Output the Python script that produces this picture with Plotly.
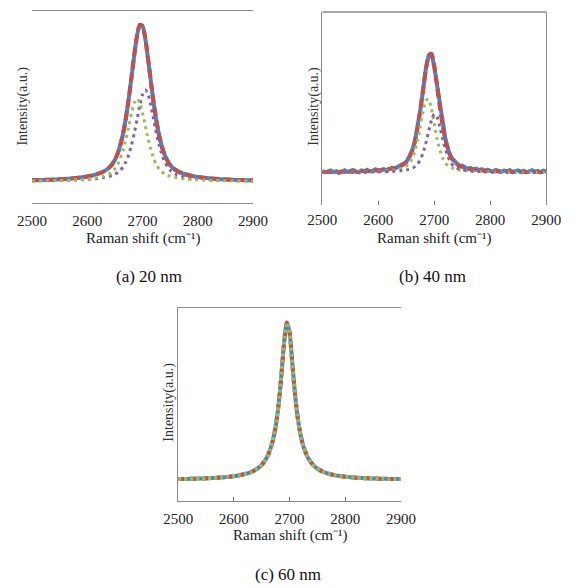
import plotly.graph_objects as go

# ---------------- data ----------------
raman_shift = [2500, 2510, 2520, 2530, 2540, 2550, 2560, 2570, 2580, 2590, 2600, 2610, 2620, 2630,
               2640, 2645, 2650, 2655, 2660, 2665, 2670, 2675, 2680, 2685, 2690, 2695, 2700, 2705,
               2710, 2715, 2720, 2725, 2730, 2735, 2740, 2745, 2750, 2755, 2760,
               2770, 2780, 2790, 2800, 2810, 2820, 2830, 2840, 2850, 2860, 2870, 2880, 2890, 2900]

# (a) 20 nm
a_total = [0.0081, 0.0089, 0.010, 0.0112, 0.0126, 0.0143, 0.0164, 0.019, 0.0223, 0.0265, 0.0319, 0.0392,
           0.0494, 0.0643, 0.0896, 0.1098, 0.138, 0.178, 0.234, 0.309, 0.406, 0.525, 0.662, 0.803, 0.924,
           0.993, 0.985, 0.903, 0.775, 0.634, 0.500, 0.385, 0.292, 0.221, 0.169, 0.132, 0.105, 0.0865,
           0.073, 0.0546, 0.0428, 0.0346, 0.0285, 0.0239, 0.0203, 0.0174, 0.0151, 0.0133, 0.0117,
           0.0104, 0.0093, 0.0082, 0.0076]
a_peak_high = [0.0036, 0.004, 0.0044, 0.0049, 0.0055, 0.0063, 0.0071, 0.0082, 0.0096, 0.0112, 0.0134,
               0.0162, 0.020, 0.0254, 0.0332, 0.0388, 0.0462, 0.0567, 0.072, 0.094, 0.126, 0.171,
               0.231, 0.306, 0.393, 0.482, 0.552, 0.58, 0.552, 0.482, 0.393, 0.306, 0.231, 0.171, 0.126,
               0.094, 0.072, 0.0567, 0.0462, 0.0332, 0.0254, 0.020, 0.0162, 0.0134, 0.0112, 0.0096,
               0.0082, 0.0071, 0.0063, 0.0055, 0.0049, 0.0044, 0.004]
a_peak_low = [0.0036, 0.004, 0.0045, 0.0051, 0.0058, 0.0066, 0.0077, 0.0089, 0.0106, 0.0127, 0.0155,
              0.0194, 0.0249, 0.0335, 0.0487, 0.0616, 0.0805, 0.1083, 0.1479, 0.2016, 0.27, 0.350,
              0.4326, 0.4988, 0.525, 0.4988, 0.4326, 0.350, 0.27, 0.2016, 0.1479, 0.1083, 0.0805,
              0.0616, 0.0487, 0.0398, 0.0335, 0.0287, 0.0249, 0.0194, 0.0155, 0.0127, 0.0106, 0.0089,
              0.0077, 0.0066, 0.0058, 0.0051, 0.0045, 0.004, 0.0036, 0.0033, 0.003]

# (b) 40 nm -- measured spectrum has its own, denser sampling
b_shift_measured = list(range(2500, 2901, 5))
b_measured = [0.015, 0.002, 0.010, 0.019, 0.004, 0.012, -0.002, 0.014, 0.020, 0.006, 0.011, 0.022, 0.008,
              0.003, 0.018, 0.012, 0.024, 0.010, 0.016, 0.028, 0.014, 0.022, 0.030, 0.020, 0.034, 0.041,
              0.036, 0.050, 0.058,
              0.079, 0.087, 0.131, 0.180, 0.250, 0.373, 0.518, 0.685, 0.864, 0.975, 0.998, 0.886, 0.731,
              0.551, 0.390, 0.281, 0.191, 0.127, 0.104, 0.075, 0.055, 0.059, 0.044, 0.031,
              0.040, 0.027, 0.033, 0.020, 0.029, 0.013, 0.024, 0.018, 0.009, 0.022, 0.014, 0.006, 0.017,
              0.011, 0.021, 0.004, 0.013, 0.019, 0.007, 0.016, 0.002, 0.012, 0.020, 0.008, 0.015, 0.003,
              0.017, 0.010]
b_fitted = [0.0046, 0.0051, 0.0057, 0.0064, 0.0072, 0.0082, 0.0095, 0.0111, 0.013, 0.0156, 0.019, 0.0237,
            0.0301, 0.0397, 0.056, 0.069, 0.090, 0.123, 0.175, 0.254, 0.367, 0.516, 0.690, 0.860, 0.978,
            0.990, 0.890, 0.725, 0.549, 0.395, 0.274, 0.188, 0.131, 0.095, 0.073, 0.058, 0.048, 0.041,
            0.035, 0.027, 0.022, 0.018, 0.015, 0.012, 0.010, 0.009, 0.008, 0.007, 0.006, 0.006, 0.005,
            0.005, 0.005]
b_peak_low = [0.0022, 0.0025, 0.0028, 0.0032, 0.0036, 0.0041, 0.0048, 0.0056, 0.0067, 0.0081, 0.0099,
              0.0125, 0.0162, 0.022, 0.0316, 0.0399, 0.053, 0.075, 0.113, 0.175, 0.266, 0.383, 0.509,
              0.602, 0.612, 0.532, 0.408, 0.287, 0.191, 0.124, 0.081, 0.056, 0.042, 0.033, 0.027,
              0.0227, 0.0194, 0.0168, 0.0146, 0.0113, 0.0091, 0.0075, 0.0062, 0.0052, 0.0045, 0.0039,
              0.0034, 0.003, 0.0027, 0.0024, 0.0022, 0.002, 0.0018]
b_peak_high = [0.0016, 0.0017, 0.0019, 0.0021, 0.0024, 0.0027, 0.0031, 0.0036, 0.0042, 0.005, 0.006,
               0.0074, 0.0092, 0.0118, 0.0158, 0.0185, 0.0222, 0.0272, 0.035, 0.0478, 0.0696, 0.107,
               0.164, 0.245, 0.343, 0.437, 0.4885, 0.465, 0.382, 0.283, 0.194, 0.127, 0.082, 0.055,
               0.039, 0.030, 0.024, 0.0198, 0.0168, 0.0125, 0.0097, 0.0077, 0.0062, 0.0052, 0.0044,
               0.0037, 0.0032, 0.0028, 0.0025, 0.0022, 0.002, 0.0018, 0.0017]

# (c) 60 nm
c_total = [0.0058, 0.0065, 0.0072, 0.0081, 0.0092, 0.0104, 0.012, 0.014, 0.0164, 0.0196, 0.0238, 0.0295,
           0.0375, 0.049, 0.067, 0.0796, 0.0962, 0.118, 0.148, 0.19, 0.25, 0.338, 0.468, 0.65, 0.862,
           0.996, 0.934, 0.735, 0.534, 0.384, 0.281, 0.211, 0.163, 0.129, 0.104, 0.0857, 0.0716,
           0.0607, 0.052, 0.0395, 0.0309, 0.0248, 0.0204, 0.017, 0.0144, 0.0124, 0.0107, 0.0094,
           0.0083, 0.0074, 0.0066, 0.0059, 0.0054]

tick_values = [2500, 2600, 2700, 2800, 2900]
captions = ["(a) 20 nm", "(b) 40 nm", "(c) 60 nm"]
x_title = "Raman shift (cm\u207b\u00b9)"
y_title = "Intensity(a.u.)"

# ---------------- styling ----------------
W, H = 582, 588
BLUE, RED, GREEN, PURPLE = "#4F81BD", "#C0504D", "#9BBB59", "#8064A2"
FONT = "Liberation Serif, Times New Roman, serif"
AXIS_GRAY = "#8a8a8a"


def px_x(p):
    return p / W


def px_y(p):
    return 1 - p / H


fig = go.Figure()


def line_trace(x, y, xa, ya, color, width, dash="solid", shape="spline"):
    line = dict(color=color, width=width, dash=dash, shape=shape)
    if shape == "spline":
        line["smoothing"] = 0.6
    fig.add_trace(go.Scatter(x=x, y=y, xaxis=xa, yaxis=ya, mode="lines", line=line,
                             showlegend=False, hoverinfo="skip"))


# panel (a)
line_trace(raman_shift, a_total, "x", "y", BLUE, 4)
line_trace(raman_shift, a_total, "x", "y", RED, 4, "9px,4px")
line_trace(raman_shift, a_peak_high, "x", "y", PURPLE, 3, "3px,4px")
line_trace(raman_shift, a_peak_low, "x", "y", GREEN, 3, "3px,4px")
# panel (b)
line_trace(b_shift_measured, b_measured, "x2", "y2", BLUE, 4, shape="linear")
line_trace(raman_shift, b_fitted, "x2", "y2", RED, 4, "9px,4px")
line_trace(raman_shift, b_peak_low, "x2", "y2", GREEN, 3, "3px,4px")
line_trace(raman_shift, b_peak_high, "x2", "y2", PURPLE, 3, "3px,4px")
# panel (c)
line_trace(raman_shift, c_total, "x3", "y3", BLUE, 4)
line_trace(raman_shift, c_total, "x3", "y3", RED, 4, "6px,6px")
line_trace(raman_shift, c_total, "x3", "y3", GREEN, 4, "3px,3px")

tickfont = dict(family=FONT, size=15, color="#222")

common_x = dict(range=[2500, 2900], tickvals=tick_values, tickfont=tickfont, showgrid=False,
                zeroline=False, linecolor=AXIS_GRAY, linewidth=1.3, tickcolor="#777",
                ticklabelstandoff=4)
common_y = dict(showticklabels=False, ticks="", showgrid=False, zeroline=False,
                linecolor=AXIS_GRAY, linewidth=1.3)

fig.update_layout(
    width=W, height=H, autosize=False,
    margin=dict(l=0, r=0, t=0, b=0),
    paper_bgcolor="white", plot_bgcolor="white",
    font=dict(family=FONT, size=15, color="#222"),
    xaxis=dict(domain=[px_x(18), px_x(251)], anchor="y", showline=True, mirror=True, ticks="", **common_x),
    yaxis=dict(domain=[px_y(203), px_y(11)], anchor="x", range=[-0.136, 1.08], showline=False, **common_y),
    xaxis2=dict(domain=[px_x(324), px_x(560)], anchor="y2", showline=False, ticks="inside", ticklen=4, **common_x),
    yaxis2=dict(domain=[px_y(205), px_y(12)], anchor="x2", range=[-0.27, 1.34], showline=True, mirror=True, **common_y),
    xaxis3=dict(domain=[px_x(172), px_x(407)], anchor="y3", showline=True, mirror=True, ticks="inside", ticklen=4, **common_x),
    yaxis3=dict(domain=[px_y(501), px_y(308)], anchor="x3", range=[-0.133, 1.088], showline=True, mirror=False, **common_y),
)

# top border of panel (b)
fig.add_shape(type="line", xref="x2 domain", yref="y2 domain", x0=0, x1=1, y0=1, y1=1,
              line=dict(color=AXIS_GRAY, width=1.3))

title_font = dict(family=FONT, size=15, color="#222")
ytitle_font = dict(family=FONT, size=14, color="#333")
cap_font = dict(family=FONT, size=17, color="#111")

ann = []
for cx, ty in [(134.5, 238), (442, 238), (289.5, 535)]:
    ann.append(dict(x=px_x(cx), y=px_y(ty), xref="paper", yref="paper", text=x_title, showarrow=False,
                    font=title_font, xanchor="center", yanchor="middle"))
for cx, cy in [(8, 106), (315, 106), (162, 402)]:
    ann.append(dict(x=px_x(cx), y=px_y(cy), xref="paper", yref="paper", text=y_title, showarrow=False,
                    font=ytitle_font, textangle=-90, xanchor="center", yanchor="middle"))
for (cx, cy), cap in zip([(141, 276), (440, 276), (288, 574)], captions):
    ann.append(dict(x=px_x(cx), y=px_y(cy), xref="paper", yref="paper", text=cap, showarrow=False,
                    font=cap_font, xanchor="center", yanchor="middle"))
fig.update_layout(annotations=ann)

fig.write_html("out.html")
